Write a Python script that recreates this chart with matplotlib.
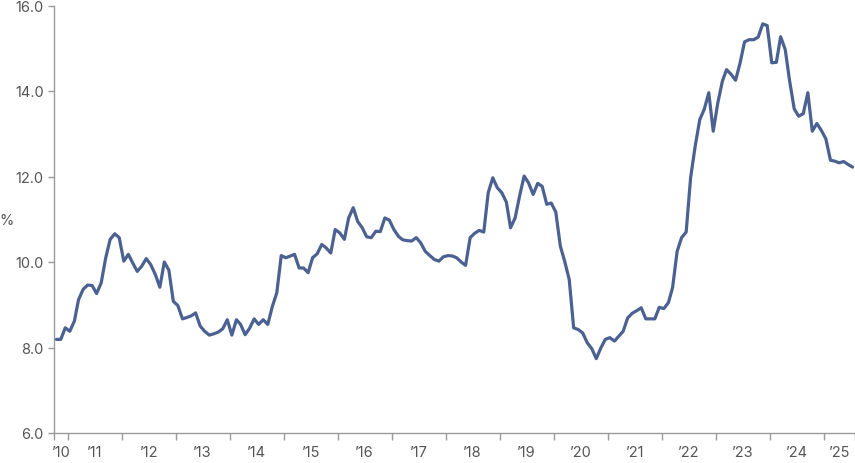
import matplotlib
matplotlib.use("Agg")
import matplotlib.pyplot as plt
import matplotlib.dates as mdates
import pandas as pd
import numpy as np

plt.rcParams['font.family'] = ['Inter', 'DejaVu Sans']

# monthly values, Oct 2010 .. Jul 2025 (%)
start_month = '2010-10'
values = [
    8.19, 8.19, 8.46, 8.38, 8.62, 9.12, 9.36, 9.46, 9.45, 9.26,
    9.51, 10.10, 10.53, 10.66, 10.57, 10.02, 10.18, 9.98, 9.78, 9.90,
    10.08, 9.94, 9.71, 9.41, 10.00, 9.81, 9.08, 8.98, 8.67, 8.70,
    8.74, 8.81, 8.50, 8.38, 8.29, 8.32, 8.36, 8.44, 8.65, 8.29,
    8.65, 8.54, 8.30, 8.45, 8.67, 8.54, 8.65, 8.54, 8.95, 9.28,
    10.15, 10.10, 10.14, 10.18, 9.86, 9.86, 9.75, 10.10, 10.19, 10.41,
    10.33, 10.21, 10.76, 10.68, 10.53, 11.03, 11.27, 10.95, 10.80, 10.59,
    10.57, 10.72, 10.71, 11.03, 10.98, 10.76, 10.60, 10.52, 10.50, 10.49,
    10.57, 10.45, 10.25, 10.15, 10.06, 10.02, 10.12, 10.15, 10.14, 10.10,
    10.00, 9.92, 10.57, 10.67, 10.74, 10.70, 11.62, 11.97, 11.74, 11.62,
    11.40, 10.80, 11.03, 11.54, 12.01, 11.85, 11.58, 11.84, 11.77, 11.35,
    11.38, 11.17, 10.37, 10.02, 9.59, 8.46, 8.42, 8.34, 8.11, 7.97,
    7.74, 7.99, 8.19, 8.23, 8.15, 8.26, 8.38, 8.69, 8.80, 8.86,
    8.93, 8.67, 8.67, 8.67, 8.94, 8.91, 9.05, 9.40, 10.25, 10.57,
    10.70, 11.97, 12.71, 13.33, 13.57, 13.96, 13.06, 13.72, 14.23, 14.50,
    14.39, 14.25, 14.66, 15.15, 15.20, 15.20, 15.26, 15.57, 15.53, 14.66,
    14.67, 15.27, 14.97, 14.23, 13.58, 13.41, 13.47, 13.96, 13.06, 13.24,
    13.08, 12.88, 12.38, 12.36, 12.32, 12.35, 12.28, 12.22,
]
years = list(range(2010, 2026))
y_ticks = [6.0, 8.0, 10.0, 12.0, 14.0, 16.0]

months = pd.date_range(start_month, periods=len(values), freq='MS')
x_dates = months + pd.Timedelta(days=15)
x_start = months[0]
x_end = months[-1] + pd.offsets.MonthBegin(1)

fig = plt.figure(figsize=(8.55, 4.64), dpi=100)
ax = fig.add_axes([54 / 855, 30 / 464, 801 / 855, 427.5 / 464])

ax.plot(x_dates, values, color='#4a6191', lw=2.3, solid_joinstyle='round',
        solid_capstyle='round', clip_on=False)

ax.set_ylim(6, 16)
ax.set_xlim(x_start, x_end)
ax.set_yticks(y_ticks)
ax.set_yticklabels([f'{v:.1f}' for v in y_ticks])

# year boundaries as ticks, year labels centred in each visible year
bounds = [x_start] + [pd.Timestamp(f'{y}-01-01') for y in years[1:]] + [x_end]
ax.set_xticks(bounds)
ax.set_xticklabels([])
mids = [bounds[i] + (bounds[i + 1] - bounds[i]) / 2 for i in range(len(years))]
ax.set_xticks(mids, minor=True)
ax.set_xticklabels(['\u2019' + str(y)[2:] for y in years], minor=True)

for s in ['top', 'right']:
    ax.spines[s].set_visible(False)
for s in ['left', 'bottom']:
    ax.spines[s].set_color('#9a9a9a')
    ax.spines[s].set_linewidth(1.0)

ax.tick_params(axis='x', which='major', length=5, width=1.0, color='#9a9a9a')
ax.tick_params(axis='x', which='minor', length=0, pad=9, labelsize=10.5,
               labelcolor='#555555')
ax.tick_params(axis='y', length=4.5, width=1.0, color='#9a9a9a',
               labelsize=10.5, labelcolor='#555555', pad=3)

fig.text(6 / 855, 1 - 221 / 464, '%', fontsize=10.5, color='#555555',
         ha='center', va='center')

fig.savefig('out.png', dpi=100)
